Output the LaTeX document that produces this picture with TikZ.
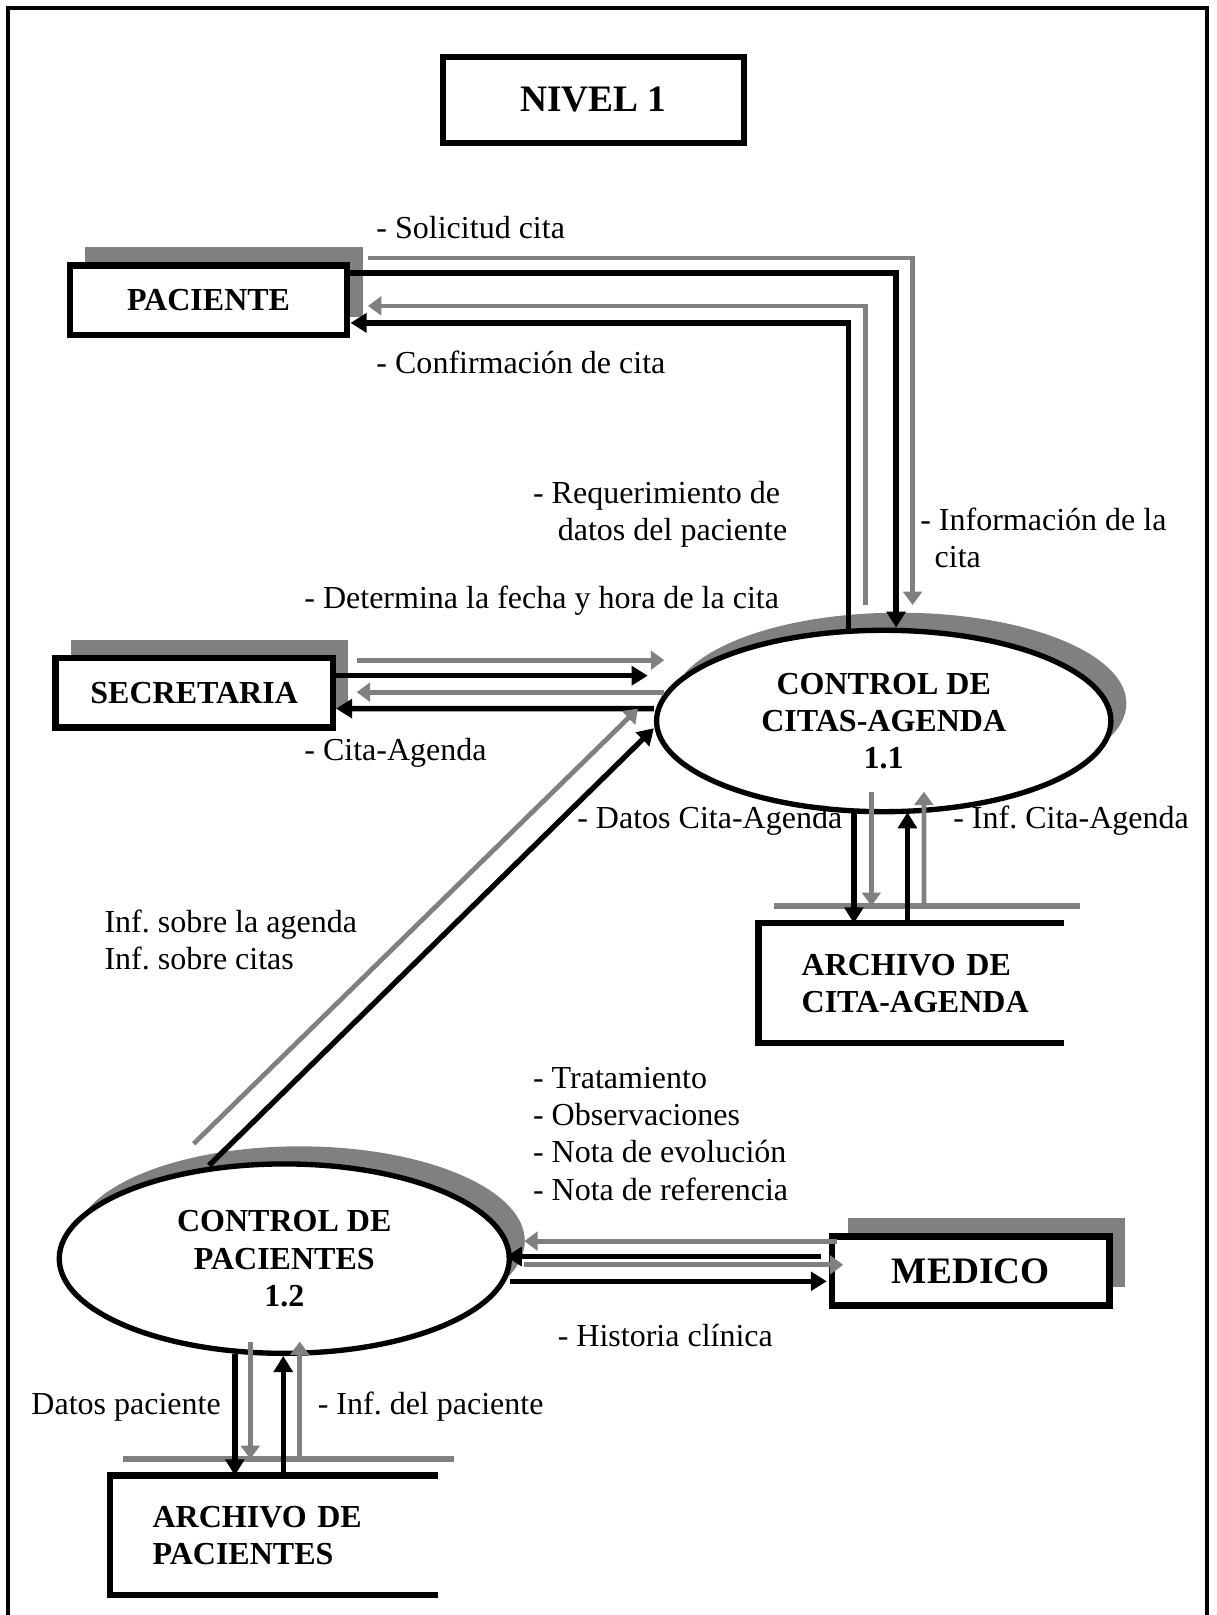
\documentclass[tikz,border=0pt]{standalone}
\usepackage{fontspec}
\setmainfont{Liberation Serif}
\usetikzlibrary{shapes.geometric,shadows,arrows.meta,calc}

\newcommand{\dfdfont}{\fontsize{12}{13.9}\selectfont}
\newcommand{\dfdbig}{\fontsize{14}{16}\selectfont}
\frenchspacing

\tikzset{
  titulo/.style={draw, line width=2.2pt, minimum width=112.7pt, minimum height=32pt, font=\dfdbig\bfseries},
  ent/.style={draw, line width=2.4pt, fill=white, minimum width=104pt, minimum height=26pt,
    font=\dfdfont\bfseries, drop shadow={shadow xshift=5.8pt, shadow yshift=6.9pt, fill=gray, opacity=1}},
  proc/.style={ellipse, draw, line width=2pt, fill=white, minimum width=170.3pt, minimum height=68pt,
    align=center, font=\dfdfont\bfseries, drop shadow={shadow xshift=5.8pt, shadow yshift=6.6pt, fill=gray, opacity=1}},
  store/.style={minimum width=114pt, minimum height=44.4pt, inner xsep=15.8pt, align=left, font=\dfdfont\bfseries},
  lbl/.style={anchor=west, inner sep=0pt, align=left},
  barr/.style={line width=2pt, -{Triangle[length=6pt, width=7pt]}},
  garr/.style={line width=1.8pt, draw=gray, -{Triangle[length=5pt, width=7pt]}},
  gline/.style={line width=2pt, draw=gray}
}

\begin{document}
\begin{tikzpicture}[x=0.3861pt, y=-0.3861pt, every node/.append style={font=\dfdfont}]
\useasboundingbox (0,0) rectangle (1181,1568);
% marco
\draw[line width=1.6pt] (8,1580) -- (8,8) -- (1172,8) -- (1172,1580);

\node[titulo] (nivel) at (576,97) {NIVEL 1};
\node[ent] (pac) at (202.5,291.5) {PACIENTE};
\node[ent] (sec) at (188.5,672.5) {SECRETARIA};
\node[ent, font=\dfdbig\bfseries] (med) at (942.5,1234) {MEDICO};
\node[proc] (citas) at (858,700) {CONTROL DE\\CITAS-AGENDA\\1.1};
\node[proc, minimum width=168.7pt, minimum height=71pt] (pacs) at (276,1222) {CONTROL DE\\PACIENTES\\1.2};
\node[store, text width=82pt] (arcA) at (884.5,954.5) {ARCHIVO DE\\\mbox{CITA-AGENDA}};
\node[store, minimum width=122.8pt, text width=91pt] (arcP) at (266,1490.5) {ARCHIVO DE\\PACIENTES};

% almacenes
\draw[line width=2.3pt] (arcA.north east) -- (arcA.north west) -- (arcA.south west) -- (arcA.south east);
\draw[gline] ($(arcA.north west)+(15,-17)$) -- ($(arcA.north east)+(16,-17)$);
\draw[line width=2.3pt] (arcP.north east) -- (arcP.north west) -- (arcP.south west) -- (arcP.south east);
\draw[gline] ($(arcP.north west)+(13,-16)$) -- ($(arcP.north east)+(15,-16)$);

% paciente
\draw[garr] ($(pac.east)+(17,-41)$) -| ($(citas.north)+(28,-22)$);
\draw[barr] ($(pac.east)+(0,-26.5)$) -| ($(citas.north)+(12,0)$);
\draw[garr] ($(citas.north)+(-18,-22)$) |- ($(pac.east)+(17,5.5)$);
\draw[barr] ($(citas.north)+(-34,1)$) |- ($(pac.east)+(0,22)$);

% secretaria
\draw[garr] ($(sec.east)+(20,-31.5)$) -- ($(citas.west)+(10,-59)$);
\draw[barr] ($(sec.east)+(0,-16.5)$) -- ($(citas.west)+(-6,-44)$);
\draw[garr] ($(citas.west)+(10,-28)$) -- ($(sec.east)+(20,-0.5)$);
\draw[barr] ($(citas.west)+(0,-12)$) -- ($(sec.east)+(0,15.5)$);

% de 1.2 a 1.1
\draw[garr] ($(pacs.north)+(-88,-17)$) -- ($(citas.west)+(-15.5,-12)$);
\draw[barr] ($(pacs.north)+(-73,4)$) -- ($(citas.west)+(0,7)$);

% archivo de cita-agenda
\draw[barr] ($(citas.south)+(-29,-1)$) -- ($(arcA.north)+(-55.5,0)$);
\draw[garr] ($(citas.south)+(-12,-22)$) -- ($(arcA.north)+(-38.5,-17)$);
\draw[barr] ($(arcA.north)+(-3.5,0)$) -- ($(citas.south)+(23,-2)$);
\draw[garr] ($(arcA.north)+(12.5,-17)$) -- ($(citas.south)+(39,-22)$);

% medico
\draw[garr] ($(med.west)+(8,-29)$) -- ($(pacs.east)+(12,-17)$);
\draw[barr] ($(med.west)+(-8,-14)$) -- ($(pacs.east)+(-6,-2)$);
\draw[garr] ($(pacs.east)+(12,6)$) -- ($(med.west)+(14,-6)$);
\draw[barr] ($(pacs.east)+(-2,22)$) -- ($(med.west)+(-2,10)$);

% archivo de pacientes
\draw[barr] ($(pacs.south)+(-48,-2)$) -- ($(arcP.north)+(-38,0)$);
\draw[garr] ($(pacs.south)+(-33,-14)$) -- ($(arcP.north)+(-23,-16)$);
\draw[barr] ($(arcP.north)+(9,0)$) -- ($(pacs.south)+(-1,0)$);
\draw[garr] ($(arcP.north)+(25,-16)$) -- ($(pacs.south)+(15,-14)$);

% etiquetas
\node[lbl] (solic) at (365,221) {- Solicitud cita};
\node[lbl] (confir) at (365,352) {- Confirmación de cita};
\node[lbl] (reque) at (517,499) {- Requerimiento de\\\hspace*{9.3pt}datos del paciente};
\node[lbl] (infcita) at (893,522.5) {- Información de la\\\hspace*{5.4pt}cita};
\node[lbl] (fecha) at (295,583) {- Determina la fecha y hora de la cita};
\node[lbl] (citag) at (295,731) {- Cita-Agenda};
\node[lbl] (infag) at (101,913) {Inf. sobre la agenda\\Inf. sobre citas};
\node[lbl] (datcit) at (560,797) {- Datos Cita-Agenda};
\node[lbl] (infcit) at (925,797) {- Inf. Cita-Agenda};
\node[lbl] (trat) at (517,1101) {- Tratamiento\\- Observaciones\\- Nota de evolución\\- Nota de referencia};
\node[lbl] (hist) at (541,1297) {- Historia clínica};
\node[lbl] (datpac) at (30,1366) {Datos paciente};
\node[lbl] (infpac) at (308,1366) {- Inf. del paciente};
\end{tikzpicture}
\end{document}
